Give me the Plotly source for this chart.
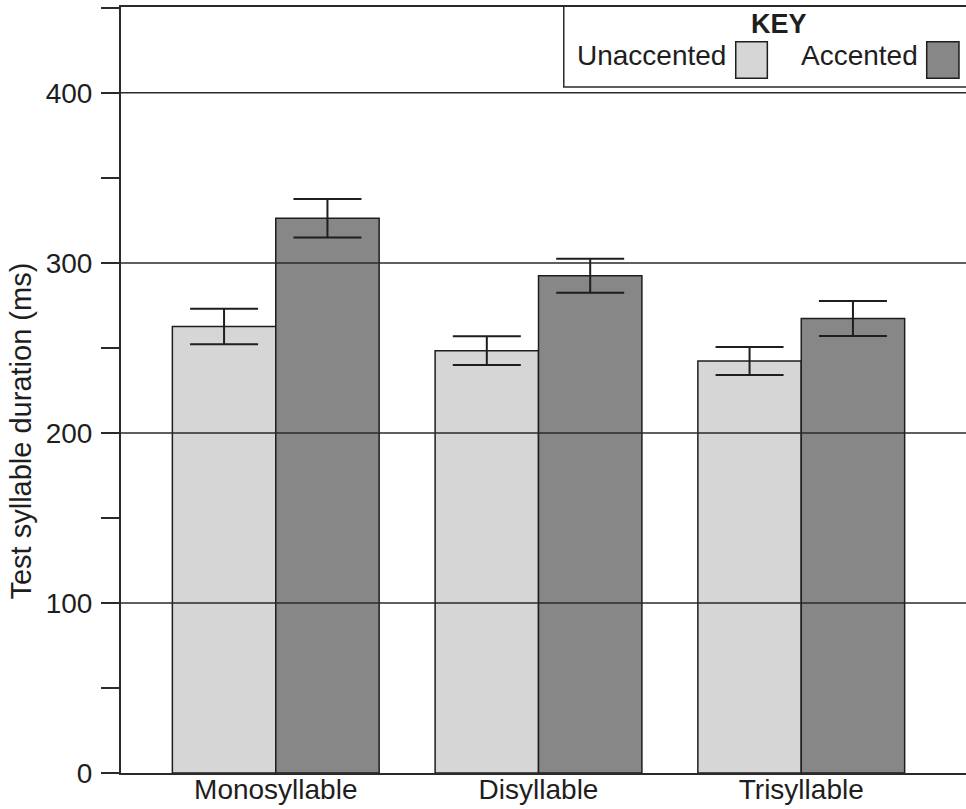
import plotly.graph_objects as go

categories = ["Monosyllable", "Disyllable", "Trisyllable"]
unaccented = [262.6, 248.4, 242.3]
unaccented_err = [10.4, 8.4, 8.3]
accented = [326.3, 292.4, 267.3]
accented_err = [11.3, 10.0, 10.3]
y_ticks = [0, 100, 200, 300, 400]

FONT = "Liberation Sans, Arial, sans-serif"
INK = "#1e1e1e"
LIGHT = "#d6d6d6"
DARK = "#878787"

fig = go.Figure()
fig.add_trace(go.Bar(
    x=categories, y=unaccented, name="Unaccented",
    marker=dict(color=LIGHT, line=dict(color=INK, width=1.5)),
    error_y=dict(type="data", array=unaccented_err, color=INK, thickness=2, width=34),
))
fig.add_trace(go.Bar(
    x=categories, y=accented, name="Accented",
    marker=dict(color=DARK, line=dict(color=INK, width=1.5)),
    error_y=dict(type="data", array=accented_err, color=INK, thickness=2, width=34),
))

# gridlines drawn over the bars, as in the original
for v in y_ticks[1:]:
    fig.add_shape(type="line", xref="paper", yref="y", x0=0, x1=1, y0=v, y1=v,
                  line=dict(color="#2a2a2a", width=1.5), layer="above")

# KEY box
fig.add_shape(type="rect", xref="paper", yref="y", x0=0.524, x1=1.05, y0=403.5, y1=451,
              line=dict(color="#2a2a2a", width=1.5), fillcolor="rgba(0,0,0,0)", layer="above")
fig.add_shape(type="rect", xref="paper", yref="y", x0=0.7275, x1=0.7649, y0=408.6, y1=430.1,
              line=dict(color=INK, width=1.5), fillcolor=LIGHT, layer="above")
fig.add_shape(type="rect", xref="paper", yref="y", x0=0.9535, x1=0.9917, y0=408.6, y1=430.1,
              line=dict(color=INK, width=1.5), fillcolor=DARK, layer="above")
fig.add_annotation(text="<b>KEY</b>", xref="paper", yref="y", x=0.7787, y=440.5,
                   xanchor="center", yanchor="middle", showarrow=False,
                   font=dict(family=FONT, size=27, color=INK))
fig.add_annotation(text="Unaccented", xref="paper", yref="y", x=0.7183, y=422.0,
                   xanchor="right", yanchor="middle", showarrow=False,
                   font=dict(family=FONT, size=28, color=INK))
fig.add_annotation(text="Accented", xref="paper", yref="y", x=0.9456, y=422.0,
                   xanchor="right", yanchor="middle", showarrow=False,
                   font=dict(family=FONT, size=28, color=INK))

# y-axis title
fig.add_annotation(text="Test syllable duration (ms)", xref="paper", yref="y",
                   x=-0.118, y=201, xanchor="center", yanchor="middle", textangle=-90,
                   showarrow=False, font=dict(family=FONT, size=29, color=INK))

fig.update_layout(
    width=966, height=809,
    margin=dict(l=121, r=0, t=7, b=36),
    paper_bgcolor="white", plot_bgcolor="white",
    barmode="group", bargap=0.213, bargroupgap=0,
    showlegend=False,
    font=dict(family=FONT, size=28, color=INK),
)
fig.update_xaxes(
    range=[-0.589, 2.627], showline=True, linecolor="#2a2a2a", linewidth=2,
    mirror=True, ticks="", showgrid=False, tickfont=dict(size=28),
    ticklabelstandoff=-10,
)
fig.update_yaxes(
    range=[0, 450.5], tickvals=y_ticks, showgrid=False, zeroline=False,
    showline=True, linecolor="#2a2a2a", linewidth=2,
    ticks="outside", ticklen=18, tickwidth=1.5, tickcolor="#2a2a2a",
    minor=dict(dtick=50, tick0=0, ticks="outside", ticklen=18, tickwidth=1.5,
               tickcolor="#2a2a2a", showgrid=False),
    tickfont=dict(size=28), ticklabelstandoff=3,
)

fig.write_html("out.html", config={"displayModeBar": False},
               post_script="document.body.style.margin='0';document.body.style.overflow='hidden';")
